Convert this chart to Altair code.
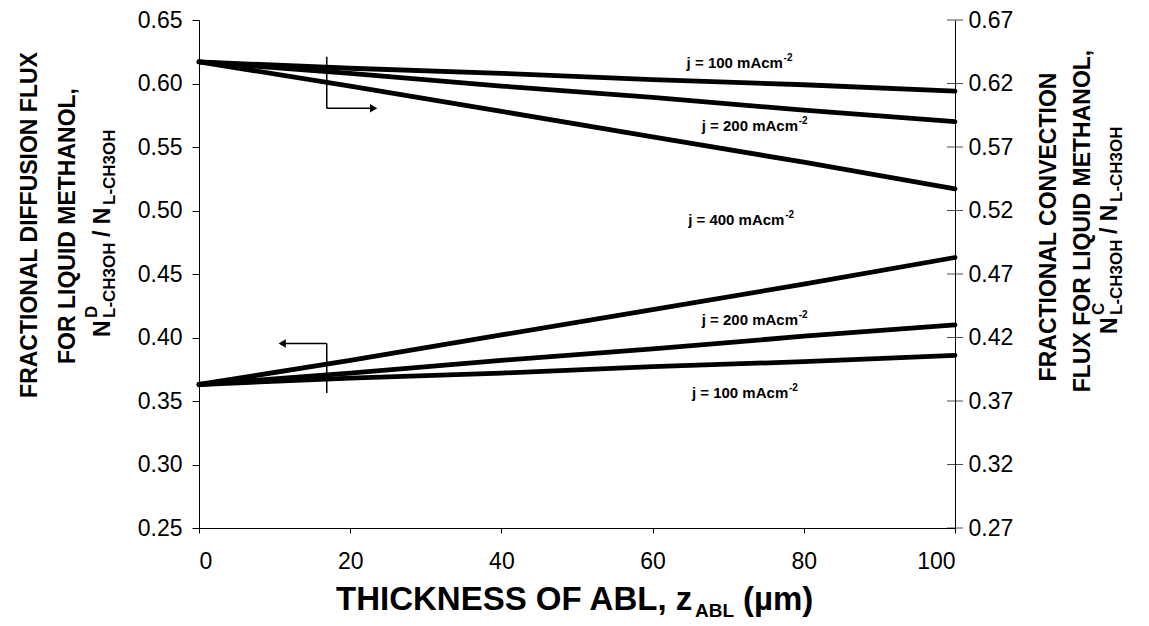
import altair as alt
import pandas as pd

# ---------------- data ----------------
x_vals = [0, 20, 40, 60, 80, 100]

# fractional diffusion flux (left axis)
diff_j100 = [0.363, 0.368, 0.372, 0.377, 0.381, 0.386]
diff_j200 = [0.363, 0.372, 0.382, 0.391, 0.401, 0.410]
diff_j400 = [0.363, 0.382, 0.402, 0.422, 0.442, 0.463]

# fractional convection flux (right axis)
conv_j100 = [0.637, 0.632, 0.628, 0.623, 0.619, 0.614]
conv_j200 = [0.637, 0.628, 0.618, 0.609, 0.599, 0.590]
conv_j400 = [0.637, 0.618, 0.598, 0.578, 0.558, 0.537]

left_ticks = [0.25, 0.30, 0.35, 0.40, 0.45, 0.50, 0.55, 0.60, 0.65]
right_ticks = [0.27, 0.32, 0.37, 0.42, 0.47, 0.52, 0.57, 0.62, 0.67]
x_ticks = [0, 20, 40, 60, 80, 100]

# curve labels (left-axis units), text start x and baseline y
label_text = ["j = 100 mAcm", "j = 200 mAcm", "j = 400 mAcm", "j = 200 mAcm", "j = 100 mAcm"]
label_x = [64.5, 66.5, 64.7, 66.5, 65.2]
label_y = [0.6125, 0.5625, 0.4883, 0.4095, 0.3523]

# arrows indicating axis (left-axis units)
arrow_x = [16.9, 16.9, 16.9, 16.9]
arrow_y = [0.621, 0.5805, 0.3953, 0.3953]
arrow_x2 = [16.9, 23.0, 16.9, 11.2]
arrow_y2 = [0.5805, 0.5805, 0.3563, 0.3953]
head_x = [23.1, 11.0]
head_y = [0.5805, 0.3953]
head_shape = ["triangle-right", "triangle-left"]

FONT = "Liberation Sans"

# ---------------- tables ----------------
diff_df = pd.DataFrame({
    "x": x_vals * 3,
    "v": diff_j100 + diff_j200 + diff_j400,
    "s": ["d100"] * 6 + ["d200"] * 6 + ["d400"] * 6,
})
conv_df = pd.DataFrame({
    "x": x_vals * 3,
    "v": conv_j100 + conv_j200 + conv_j400,
    "s": ["c100"] * 6 + ["c200"] * 6 + ["c400"] * 6,
})
lab_df = pd.DataFrame({"t": label_text, "x": label_x, "y": label_y, "sup": ["-2"] * 5})
arr_df = pd.DataFrame({"x": arrow_x, "y": arrow_y, "x2": arrow_x2, "y2": arrow_y2})
head_df = pd.DataFrame({"x": head_x, "y": head_y, "shape": head_shape})
tick_df = pd.DataFrame({"x": [100] * len(left_ticks), "y": left_ticks})

xscale = alt.Scale(domain=[0, 100], nice=False)
lscale = alt.Scale(domain=[0.25, 0.65], nice=False, zero=False)
rscale = alt.Scale(domain=[0.27, 0.67], nice=False, zero=False)

x_axis = alt.Axis(values=x_ticks, title=None, labelFontSize=23, labelFont=FONT,
                  labelColor="black", tickSize=5, tickColor="black", domainColor="black",
                  labelPadding=17, grid=False, format="d", orient="bottom")
l_axis = alt.Axis(values=left_ticks, title=None, labelFontSize=23, labelFont=FONT,
                  labelColor="black", tickSize=7, tickColor="black", domainColor="black",
                  labelPadding=10, grid=False, format=".2f", orient="left")
r_axis = alt.Axis(values=right_ticks, title=None, labelFontSize=23, labelFont=FONT,
                  labelColor="black", ticks=False, domainColor="black",
                  labelPadding=13, grid=False, format=".2f", orient="right")

X = alt.X("x:Q", scale=xscale, axis=x_axis)


def YL(field):
    return alt.Y(field, scale=lscale, axis=l_axis)


diff_lines = alt.Chart(diff_df).mark_line(color="black", strokeWidth=4.8, strokeCap="round").encode(
    x=X, y=YL("v:Q"), detail="s:N",
)
labels = alt.Chart(lab_df).mark_text(align="left", baseline="alphabetic", font=FONT,
                                     fontWeight="bold", fontSize=15, color="black").encode(
    x=X, y=YL("y:Q"), text="t:N",
)
sups = alt.Chart(lab_df).mark_text(align="left", baseline="alphabetic", font=FONT,
                                   fontWeight="bold", fontSize=10, color="black", dx=97, dy=-7).encode(
    x=X, y=YL("y:Q"), text="sup:N",
)
arrows = alt.Chart(arr_df).mark_rule(color="black", strokeWidth=1.5).encode(
    x=X, y=YL("y:Q"), x2="x2:Q", y2="y2:Q",
)
heads = alt.Chart(head_df).mark_point(filled=True, color="black", size=70, opacity=1).encode(
    x=X, y=YL("y:Q"), shape=alt.Shape("shape:N", scale=None),
)
cross_ticks = alt.Chart(tick_df).mark_tick(orient="horizontal", size=16, thickness=1, color="black").encode(
    x=X, y=YL("y:Q"),
)


def txt(s, x, y, size=23, angle=270, align="center", baseline="middle"):
    return alt.Chart(pd.DataFrame({"a": [0]})).mark_text(
        text=s, font=FONT, fontWeight="bold", fontSize=size, color="black",
        angle=angle, align=align, baseline=baseline,
    ).encode(x=alt.value(x), y=alt.value(y))


# titles, placed in pixels relative to the plot origin
left_title = [
    txt("FRACTIONAL DIFFUSION FLUX", -169, 205),
    txt("FOR LIQUID METHANOL,", -131, 206),
    txt("N", -89, 317, align="left", baseline="alphabetic"),
    txt("D", -102, 298, size=17, align="left", baseline="alphabetic"),
    txt("L-CH3OH", -84, 298, size=17, align="left", baseline="alphabetic"),
    txt("/ N", -89, 217, align="left", baseline="alphabetic"),
    txt("L-CH3OH", -84, 185, size=17, align="left", baseline="alphabetic"),
]
right_title = [
    txt("FRACTIONAL CONVECTION", 850, 207),
    txt("FLUX FOR LIQUID METHANOL,", 884, 201),
    txt("N", 918, 314, align="left", baseline="alphabetic"),
    txt("C", 905, 295, size=17, align="left", baseline="alphabetic"),
    txt("L-CH3OH", 923, 295, size=17, align="left", baseline="alphabetic"),
    txt("/ N", 918, 214, align="left", baseline="alphabetic"),
    txt("L-CH3OH", 923, 182, size=17, align="left", baseline="alphabetic"),
]
x_title = [
    txt("THICKNESS OF ABL, z", 137, 590, size=33, angle=0, align="left", baseline="alphabetic"),
    txt("ABL", 496, 597, size=19, angle=0, align="left", baseline="alphabetic"),
    txt("(\u00b5m)", 544, 590, size=33, angle=0, align="left", baseline="alphabetic"),
]

left_layer = alt.layer(diff_lines, cross_ticks, arrows, heads, labels, sups,
                       *left_title, *right_title, *x_title)

conv_lines = alt.Chart(conv_df).mark_line(color="black", strokeWidth=4.8, strokeCap="round").encode(
    x=X,
    y=alt.Y("v:Q", scale=rscale, axis=r_axis),
    detail="s:N",
)

chart = alt.layer(left_layer, conv_lines).resolve_scale(y="independent").properties(
    width=756, height=508,
    autosize=alt.AutoSizeParams(type="none"),
    padding={"left": 191, "top": 12, "right": 186, "bottom": 98},
    background="white",
).configure_view(stroke=None)

chart.save("out.html", embed_options={"renderer": "svg", "actions": False})
